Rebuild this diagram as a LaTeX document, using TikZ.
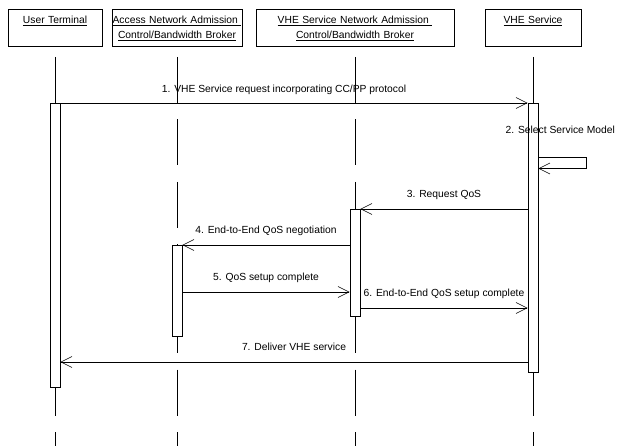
\documentclass[tikz,border=0pt]{standalone}
\usepackage{fontspec}
\setmainfont{Liberation Sans}
\usetikzlibrary{arrows.meta}

\begin{document}
\begin{tikzpicture}[x=1pt, y=-1pt,
    obj/.style = {draw, rectangle, inner sep=0pt, anchor=north, align=center, text height=14pt, text depth=22.4pt, font=\fontsize{10.3}{15.5}\selectfont},
    life/.style = {line width=0.6pt, dash pattern=on 46pt off 16.5pt},
    act/.style = {draw, fill=white, rectangle, line width=0.6pt, minimum width=10pt, inner sep=0pt, anchor=north},
    msg/.style = {line width=0.6pt, -{Straight Barb[length=11pt, width=11pt]}},
    lbl/.style = {font=\fontsize{10.3}{12}\selectfont, inner sep=0pt, anchor=base, yshift=11.5pt}]
        \useasboundingbox (0,0) rectangle (618,446);

        % objects
        \node[obj, text width=94pt] (ut) at (55, 9.3) {\underline{User Terminal}};
        \node[obj, text width=130pt] (an) at (177, 9.3) {\underline{Access Network Admission\ }\\\underline{Control/Bandwidth Broker}};
        \node[obj, text width=198pt] (sn) at (355, 9.3) {\underline{VHE Service Network Admission\ }\\\underline{Control/Bandwidth Broker}};
        \node[obj, text width=96pt] (vs) at (533, 9.3) {\underline{VHE Service}};

        % lifelines
        \draw[life] (ut.south |- 0,57) -- (ut.south |- 0,446);
        \draw[life] (an.south |- 0,57) -- (an.south |- 0,446);
        \draw[life] (sn.south |- 0,57) -- (sn.south |- 0,446);
        \draw[life] (vs.south |- 0,57) -- (vs.south |- 0,446);

        % activations
        \node[act, minimum height=284pt] (utBar) at (55, 103) {};
        \node[act, minimum height=269pt] (vsBar) at (533, 103) {};
        \node[act, minimum height=107pt] (snBar) at (355, 209) {};
        \node[act, minimum height=91pt] (anBar) at (177, 245) {};

        % messages
        \draw[msg] (utBar.north east) -- (vsBar.north west)
            node[lbl, midway, yshift=-1.5pt, xshift=-10pt] {1. VHE Service request incorporating CC/PP protocol};
        \draw[msg] (vsBar.east |- 0,157) -- ++(48,0) -- ++(0,11.5) -- (vsBar.east |- 0,168.5);
        \node[lbl, anchor=base west, yshift=0pt] (sel) at (505.5, 145) {2. Select Service Model};
        \draw[msg] (vsBar.west |- snBar.north) -- (snBar.north east)
            node[lbl, midway] {3. Request QoS};
        \draw[msg] (snBar.west |- anBar.north) -- (anBar.north east)
            node[lbl, midway] {4. End-to-End QoS negotiation};
        \draw[msg] (anBar.east |- 0,292) -- (snBar.west |- 0,292)
            node[lbl, midway] {5. QoS setup complete};
        \draw[msg] (snBar.east |- 0,308) -- (vsBar.west |- 0,308)
            node[lbl, midway] {6. End-to-End QoS setup complete};
        \draw[msg] (vsBar.west |- 0,362) -- (utBar.east |- 0,362)
            node[lbl, midway] {7. Deliver VHE service};
    \end{tikzpicture}
\end{document}
